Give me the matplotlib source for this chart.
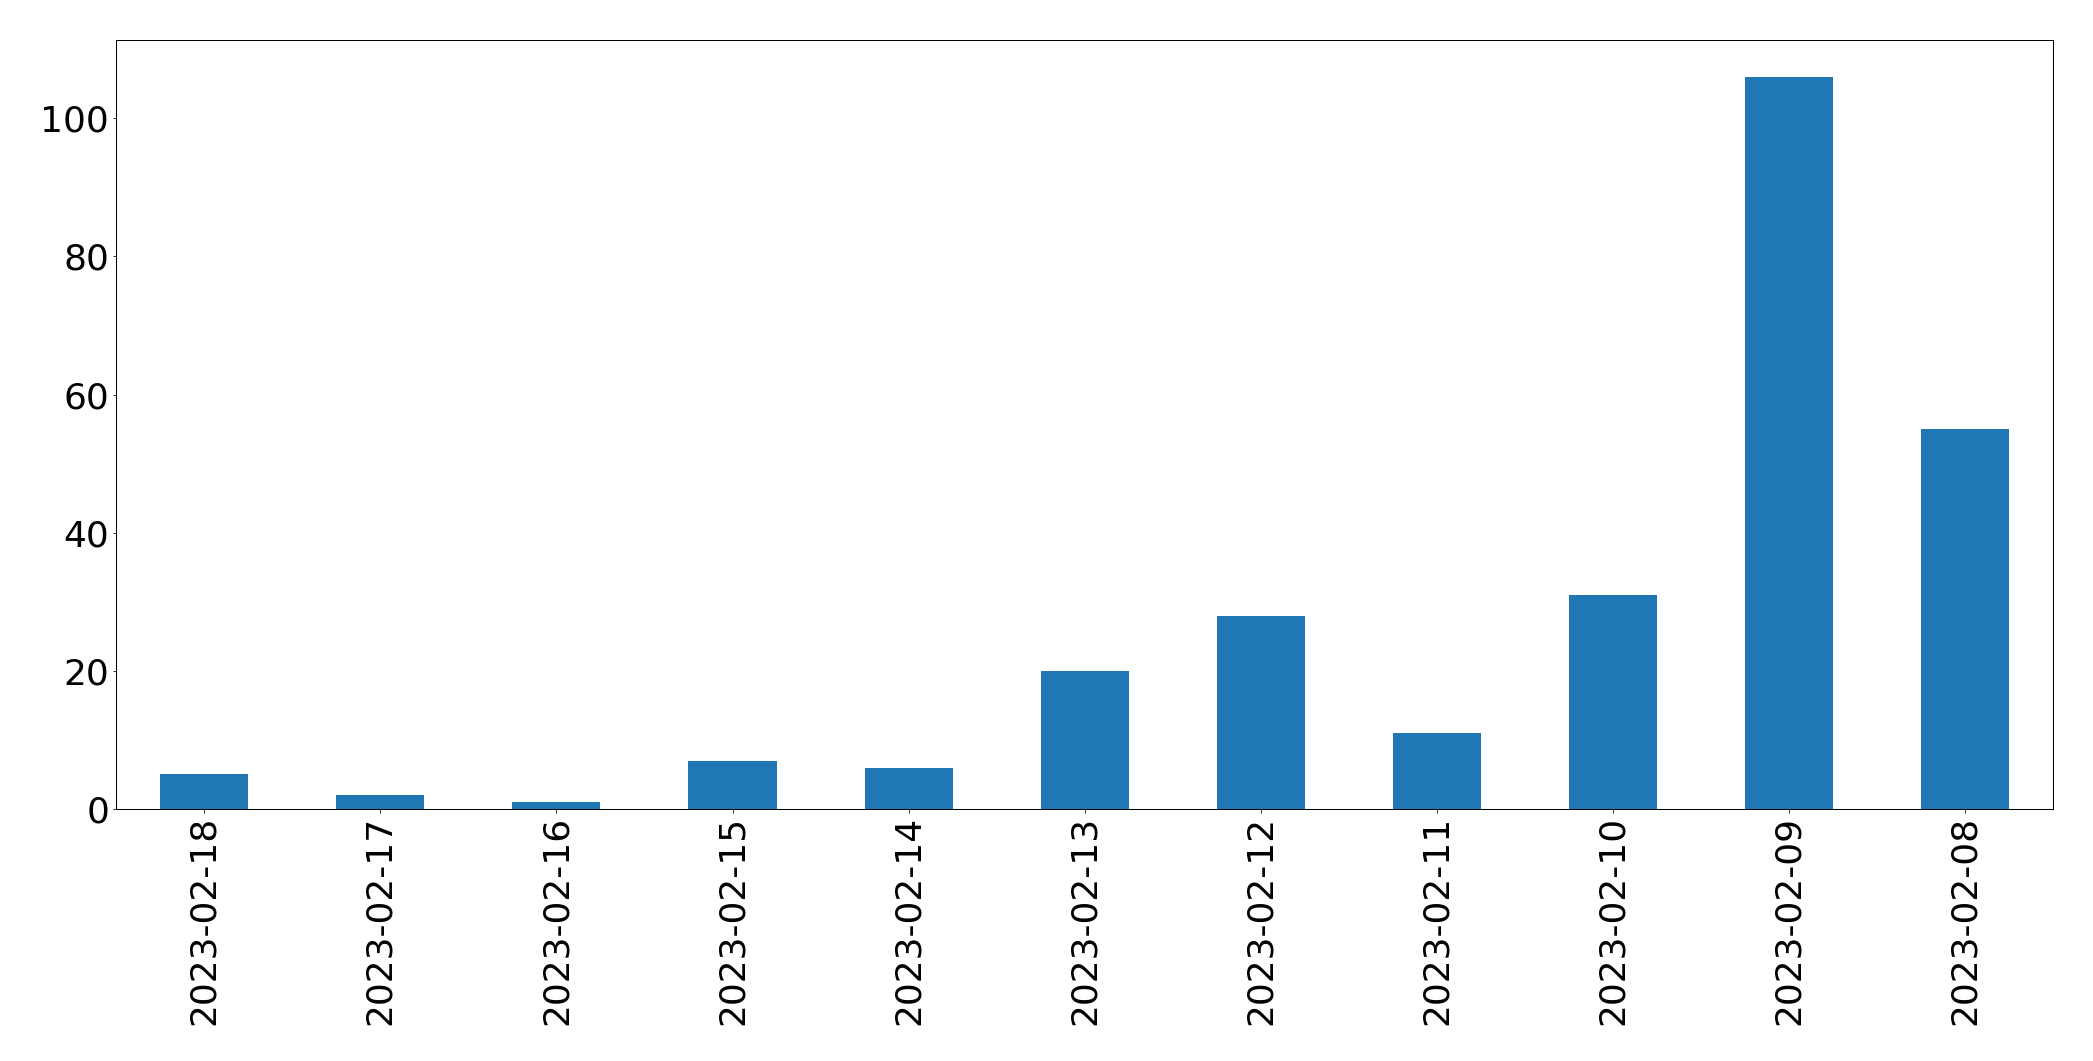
import pandas as pd
import matplotlib
matplotlib.use("Agg")
import matplotlib.pyplot as plt

# daily counts, newest first (as in the original)
dates = ["2023-02-18", "2023-02-17", "2023-02-16", "2023-02-15", "2023-02-14",
         "2023-02-13", "2023-02-12", "2023-02-11", "2023-02-10", "2023-02-09",
         "2023-02-08"]
counts = [5, 2, 1, 7, 6, 20, 28, 11, 31, 106, 55]

s = pd.Series(counts, index=dates)

fig = plt.figure(figsize=(2093 / 72, 1061 / 72), dpi=72)
ax = fig.add_axes([0.0555, 0.2375, 0.9255, 0.7245])
s.plot(kind="bar", ax=ax, color="#1f77b4", fontsize=36)
ax.set_xlabel("")
for sp in ax.spines.values():
    sp.set_linewidth(1.0)

fig.savefig("out.png", dpi=72)
